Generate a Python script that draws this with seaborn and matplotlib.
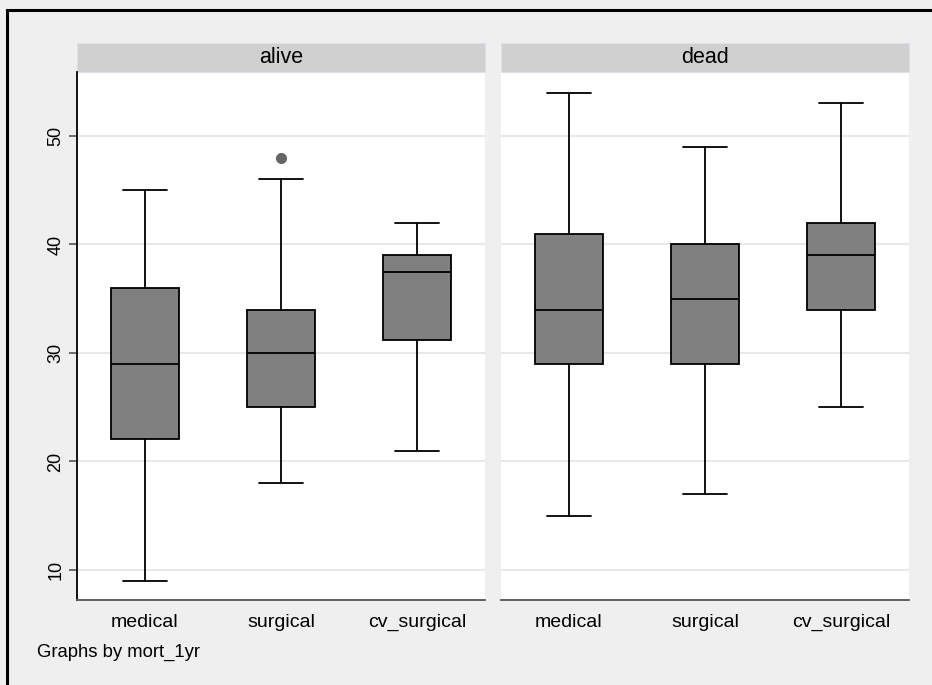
import numpy as np
import pandas as pd
import matplotlib
matplotlib.use("Agg")
import matplotlib.pyplot as plt
from matplotlib.patches import Rectangle
import seaborn as sns

# ---- data (box-plot summaries) ----
panels = ["alive", "dead"]
services = ["medical", "surgical", "cv_surgical"]
# per panel, per service
lower = {"alive": [9, 18, 21], "dead": [15, 17, 25]}
q1 = {"alive": [22.1, 25, 31.2], "dead": [29, 29, 34]}
median = {"alive": [29, 30, 37.5], "dead": [34, 35, 39]}
q3 = {"alive": [36, 34, 39], "dead": [41, 40, 42]}
upper = {"alive": [45, 46, 42], "dead": [54, 49, 53]}
outliers = {"alive": [[], [48], []], "dead": [[], [], []]}
yticks = [10, 20, 30, 40, 50]

# Build minimal samples reproducing each five-number summary
rows = []
for p in panels:
    for i, s in enumerate(services):
        pts = [lower[p][i], q1[p][i], q1[p][i], median[p][i], median[p][i],
               q3[p][i], q3[p][i], upper[p][i]] + outliers[p][i]
        for v in pts:
            rows.append({"mort_1yr": p, "service": s, "value": v})
df = pd.DataFrame(rows)

sns.set_theme(style="white")
plt.rcParams["font.family"] = ["Liberation Sans", "DejaVu Sans"]

W, H = 932, 685
fig = plt.figure(figsize=(W / 100, H / 100), dpi=100)
fig.patch.set_facecolor("#efefef")

def fx(px):
    return px / W

def fy(py):
    return 1 - py / H

ax_top, ax_bot = 72, 600
lefts = [77, 501]
pw = 408
strip_h = 29

axes = []
for k, p in enumerate(panels):
    ax = fig.add_axes([fx(lefts[k]), fy(ax_bot), pw / W, (ax_bot - ax_top) / H])
    ax.set_facecolor("white")
    sub = df[df["mort_1yr"] == p]
    sns.boxplot(data=sub, x="service", y="value", order=services, ax=ax,
                color="#808080", saturation=1, width=0.5, linecolor="black",
                linewidth=1.3, whis=1.5, capwidths=0.33,
                flierprops=dict(marker="o", markerfacecolor="#666666",
                                markeredgecolor="#666666", markersize=7))
    ax.set_xlim(-0.5, 2.5)
    ax.set_ylim(7.23, 55.9)
    ax.set_yticks(yticks)
    ax.yaxis.grid(True, color="#e6e6e6", linewidth=1.3)
    ax.set_axisbelow(True)
    ax.set_xlabel("")
    ax.set_ylabel("")
    for sp in ["top", "right"]:
        ax.spines[sp].set_visible(False)
    ax.spines["bottom"].set_color("#555555")
    ax.spines["bottom"].set_linewidth(1.3)
    ax.tick_params(axis="x", length=0, pad=10, labelsize=14, colors="black")
    if k == 0:
        ax.spines["left"].set_color("black")
        ax.spines["left"].set_linewidth(1.3)
        ax.tick_params(axis="y", left=True, length=6, width=1.2, color="#555555",
                       labelsize=13, pad=3, labelcolor="black")
        for t in ax.get_yticklabels():
            t.set_rotation(90)
            t.set_va("center")
    else:
        ax.spines["left"].set_visible(False)
        ax.tick_params(axis="y", left=False, labelleft=False)
    # strip header
    sh = strip_h / (ax_bot - ax_top)
    ax.add_patch(Rectangle((0, 1), 1, sh, transform=ax.transAxes, clip_on=False,
                           facecolor="#d0d0d0", edgecolor="#dde0e8", linewidth=0.8))
    ax.text(0.5, 1 + sh / 2, p, transform=ax.transAxes, ha="center", va="center",
            fontsize=15.5, color="black")
    axes.append(ax)

fig.text(fx(37), fy(652), "Graphs by mort_1yr", ha="left", va="center",
         fontsize=13.3, color="black")

# outer border (open on right/bottom as in the reference crop)
fig.patches.append(Rectangle((fx(6.5), -0.2), 1.2, fy(9.5) + 0.2,
                             transform=fig.transFigure, fill=False,
                             edgecolor="black", linewidth=2.2))

fig.savefig("out.png", dpi=100, facecolor=fig.get_facecolor())
